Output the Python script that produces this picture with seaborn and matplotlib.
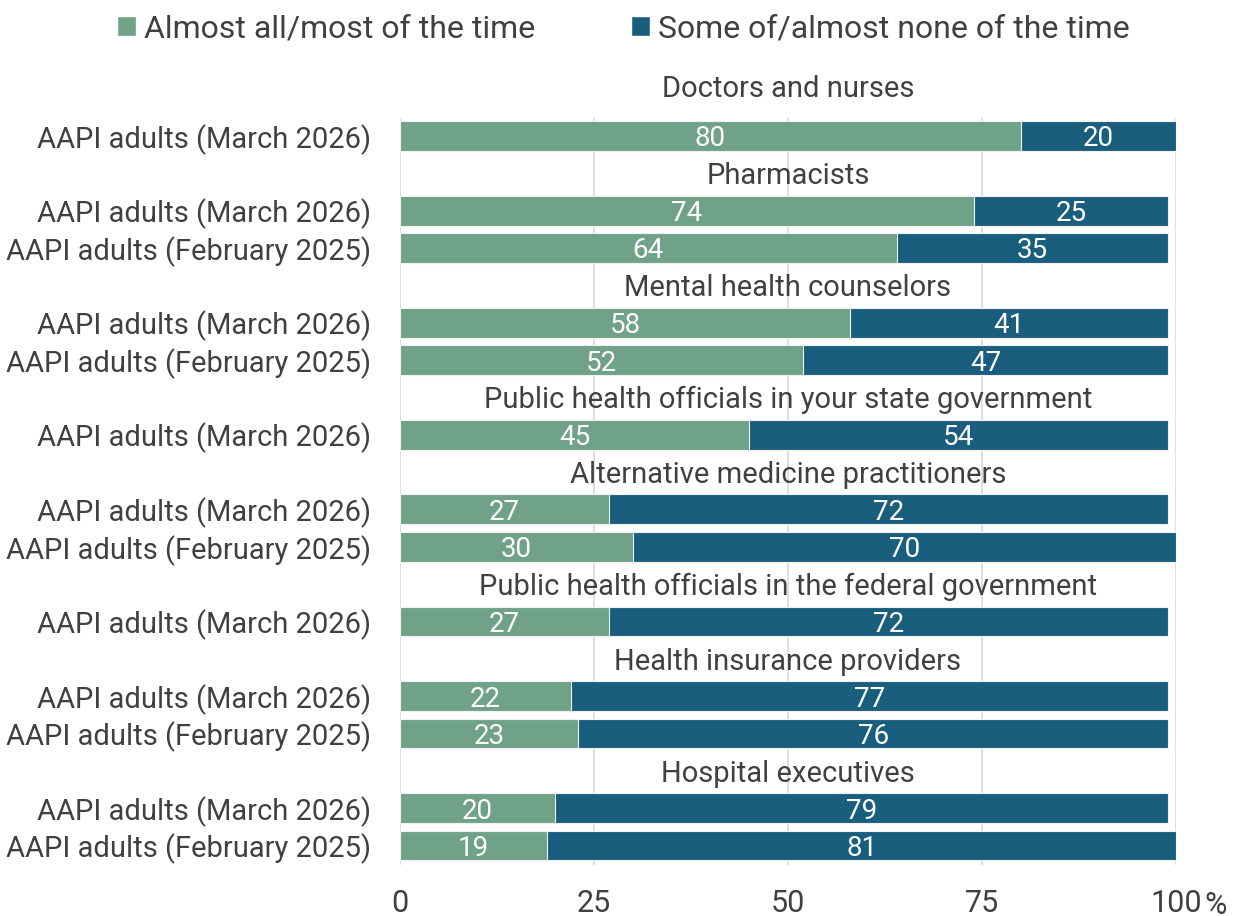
import matplotlib
matplotlib.use("Agg")
import matplotlib.pyplot as plt
import seaborn as sns
import pandas as pd
from matplotlib.patches import Patch

# data
groups = ["Doctors and nurses", "Pharmacists", "Mental health counselors",
          "Public health officials in your state government",
          "Alternative medicine practitioners",
          "Public health officials in the federal government",
          "Health insurance providers", "Hospital executives"]
waves = [["AAPI adults (March 2026)"],
         ["AAPI adults (March 2026)", "AAPI adults (February 2025)"],
         ["AAPI adults (March 2026)", "AAPI adults (February 2025)"],
         ["AAPI adults (March 2026)"],
         ["AAPI adults (March 2026)", "AAPI adults (February 2025)"],
         ["AAPI adults (March 2026)"],
         ["AAPI adults (March 2026)", "AAPI adults (February 2025)"],
         ["AAPI adults (March 2026)", "AAPI adults (February 2025)"]]
most_time = [[80], [74, 64], [58, 52], [45], [27, 30], [27], [22, 23], [20, 19]]
some_time = [[20], [25, 35], [41, 47], [54], [72, 70], [72], [77, 76], [79, 81]]
series_names = ["Almost all/most of the time", "Some of/almost none of the time"]

green = "#6fa287"
blue = "#1a5e7e"
grey = "#404040"

# one slot per header, one per bar
rows = []
header_pos = []
slot = -1
for g, w, m, s in zip(groups, waves, most_time, some_time):
    header_pos.append(slot)
    slot += 1
    for lab, a, b in zip(w, m, s):
        rows.append({"pos": slot, "label": lab, "most": a, "some": b})
        slot += 1
df = pd.DataFrame(rows)
df["total"] = df["most"] + df["some"]

sns.set_style("white")
plt.rcParams["font.family"] = ["Roboto", "DejaVu Sans"]

fig = plt.figure(figsize=(12.34, 9.16), dpi=100)
ax = fig.add_axes([0.3241, 0.0557, 0.6289, 0.8155])

for xv in [0, 25, 50, 75, 100]:
    ax.axvline(xv, color="#d9d9d9", lw=1.2, zorder=0)

sns.barplot(data=df, x="total", y="pos", orient="h", native_scale=True,
            color=blue, saturation=1, width=0.8, errorbar=None, ax=ax,
            edgecolor="#f0f0f0", linewidth=0.8, zorder=2)
sns.barplot(data=df, x="most", y="pos", orient="h", native_scale=True,
            color=green, saturation=1, width=0.8, errorbar=None, ax=ax,
            edgecolor="#f0f0f0", linewidth=0.8, zorder=3)

for _, r in df.iterrows():
    ax.text(r["most"] / 2, r["pos"], str(r["most"]), ha="center",
            va="center_baseline", color="white", fontsize=20, zorder=5)
    ax.text(r["most"] + r["some"] / 2, r["pos"], str(r["some"]), ha="center",
            va="center_baseline", color="white", fontsize=20, zorder=5)

for g, p in zip(groups, header_pos):
    yy = p if p >= 0 else p - 0.33
    ax.text(50, yy, g, ha="center", va="center_baseline", color=grey,
            fontsize=21, clip_on=False)

ax.set_xlim(0, 100)
ax.set_ylim(19.52, -0.48)
ax.set_yticks(df["pos"])
ax.set_yticklabels(df["label"])
ax.set_xticks([0, 25, 50, 75, 100])
ax.set_xticklabels(["0", "25", "50", "75", "100"])
ax.annotate("%", xy=(100, 0), xycoords=("data", "axes fraction"),
            xytext=(28, -49), textcoords="offset pixels", ha="left",
            va="baseline", color=grey, fontsize=22, annotation_clip=False)
ax.tick_params(axis="y", length=0, pad=21, labelsize=21, labelcolor=grey)
ax.tick_params(axis="x", length=0, pad=17, labelsize=22, labelcolor=grey)
ax.set_xlabel("")
ax.set_ylabel("")
for sp in ax.spines.values():
    sp.set_visible(False)

handles = [Patch(facecolor=green), Patch(facecolor=blue)]
fig.legend(handles, series_names, loc="upper center", bbox_to_anchor=(0.505, 0.998),
           borderaxespad=0, ncol=2, frameon=False, fontsize=23, handlelength=0.6,
           handleheight=0.6, handletextpad=0.25, columnspacing=3.0, labelcolor=grey)

fig.savefig("out.png", dpi=100)
